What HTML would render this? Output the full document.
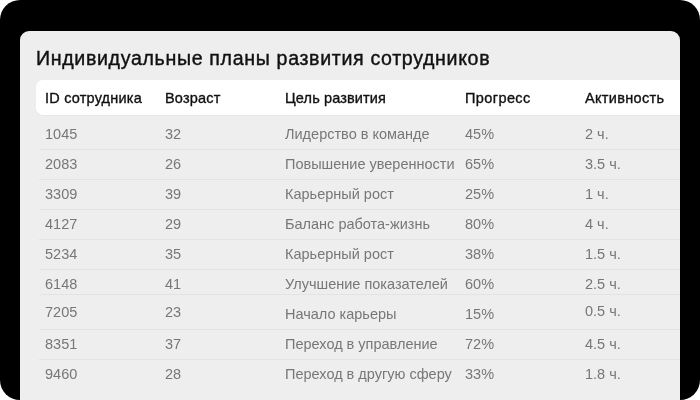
<!DOCTYPE html>
<html lang="ru">
<head>
<meta charset="utf-8">
<title>Индивидуальные планы развития сотрудников</title>
<style>
html,body{margin:0;padding:0;background:#fff;}
body{width:700px;height:400px;overflow:hidden;font-family:"Liberation Sans",sans-serif;}
.frame{position:absolute;left:0;top:0;width:700px;height:400px;background:#000;border-radius:20px;overflow:hidden;}
.card{position:absolute;left:20px;top:31px;width:660px;height:380px;background:#eee;border-radius:9px 9px 0 0;overflow:hidden;}
h1{position:absolute;left:16px;top:15px;margin:0;font-size:19.6px;line-height:24px;font-weight:400;color:#111;white-space:nowrap;letter-spacing:0.66px;-webkit-text-stroke:0.4px #111;}
.head{position:absolute;left:16px;top:49px;width:660px;height:35px;background:#fff;border-radius:7px 0 0 7px;box-shadow:0 1px 0 #e6e6e6;}
.head span{position:absolute;top:1px;line-height:35px;font-size:14.5px;color:#111;white-space:nowrap;letter-spacing:0.2px;-webkit-text-stroke:0.35px #111;}
.row{position:absolute;left:19px;width:660px;height:29px;border-bottom:1px solid #e3e3e3;}
.row span{position:absolute;top:-1px;line-height:31px;font-size:14.5px;color:#777;white-space:nowrap;}
.c1{left:9px}.c2{left:129px}.c3{left:249px}.c4{left:429px}.c5{left:549px}
.row .c1{left:6px}.row .c2{left:126px}.row .c3{left:246px}.row .c4{left:426px}.row .c5{left:546px}
</style>
</head>
<body>
<div class="frame">
<div class="card">
<h1>Индивидуальные планы развития сотрудников</h1>
<div class="head"><span class="c1">ID сотрудника</span><span class="c2">Возраст</span><span class="c3" style="letter-spacing:0.12px">Цель развития</span><span class="c4" style="letter-spacing:0.4px">Прогресс</span><span class="c5" style="letter-spacing:0.32px">Активность</span></div>
<div class="row" style="top:89px"><span class="c1">1045</span><span class="c2">32</span><span class="c3">Лидерство в команде</span><span class="c4">45%</span><span class="c5">2 ч.</span></div>
<div class="row" style="top:119px"><span class="c1">2083</span><span class="c2">26</span><span class="c3">Повышение уверенности</span><span class="c4">65%</span><span class="c5">3.5 ч.</span></div>
<div class="row" style="top:149px"><span class="c1">3309</span><span class="c2">39</span><span class="c3">Карьерный рост</span><span class="c4">25%</span><span class="c5">1 ч.</span></div>
<div class="row" style="top:179px"><span class="c1">4127</span><span class="c2">29</span><span class="c3">Баланс работа-жизнь</span><span class="c4">80%</span><span class="c5">4 ч.</span></div>
<div class="row" style="top:209px"><span class="c1">5234</span><span class="c2">35</span><span class="c3">Карьерный рост</span><span class="c4">38%</span><span class="c5">1.5 ч.</span></div>
<div class="row" style="top:239px;height:24px"><span class="c1">6148</span><span class="c2">41</span><span class="c3">Улучшение показателей</span><span class="c4">60%</span><span class="c5">2.5 ч.</span></div>
<div class="row" style="top:269px"><span class="c1" style="top:-3px">7205</span><span class="c2" style="top:-3px">23</span><span class="c3">Начало карьеры</span><span class="c4">15%</span><span class="c5" style="top:-4px">0.5 ч.</span></div>
<div class="row" style="top:299px"><span class="c1">8351</span><span class="c2">37</span><span class="c3">Переход в управление</span><span class="c4">72%</span><span class="c5">4.5 ч.</span></div>
<div class="row" style="top:329px;border-bottom:0"><span class="c1">9460</span><span class="c2">28</span><span class="c3">Переход в другую сферу</span><span class="c4">33%</span><span class="c5">1.8 ч.</span></div>
</div>
</div>
</body>
</html>
